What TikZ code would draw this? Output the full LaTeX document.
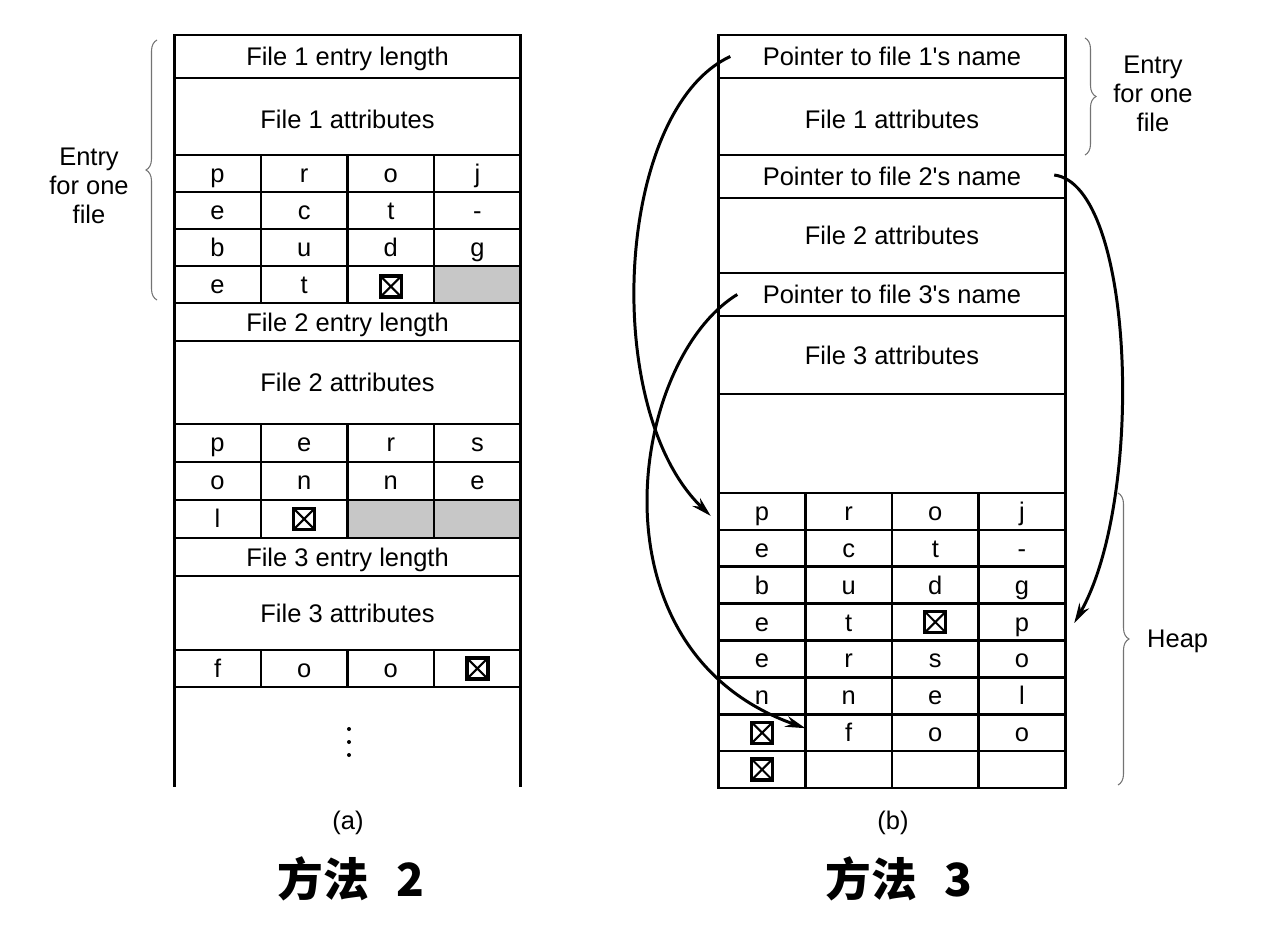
\documentclass[tikz,border=0pt]{standalone}
\usepackage{fontspec}
\setmainfont{Liberation Sans}[Ligatures=TeXOff]
\newfontfamily\cjk{Noto Sans CJK SC}
\usetikzlibrary{arrows.meta,decorations.pathreplacing}

\tikzset{
  cell/.style={draw,line width=1.5pt,inner sep=0pt,outer sep=0pt,
    minimum width=1.7325cm,minimum height=0.74cm,
    text height=10.2pt,text depth=0pt},
  bar/.style={cell,minimum width=6.93cm,text height=10.8pt},
  unused/.style={fill=black!22},
  nul/.style={draw,line width=1.8pt,minimum size=0.42cm,inner sep=0pt,
    path picture={\draw[line width=1.2pt]
      (path picture bounding box.north west) -- (path picture bounding box.south east)
      (path picture bounding box.north east) -- (path picture bounding box.south west);}},
  ptr/.style={-{Stealth[length=0.4cm,width=0.22cm]},line width=1.7pt},
  curly/.style={decorate,decoration={brace,amplitude=0.22cm},
    draw=black!55,line width=0.6pt},
  title/.style={font=\cjk\bfseries\fontsize{26}{28}\selectfont},
}

\begin{document}
\begin{tikzpicture}[x=0.02cm,y=-0.02cm,font=\fontsize{14.5}{16.7}\selectfont]
  \useasboundingbox (0,0) rectangle (1286,933);

  % (a) entries stored in line
  \node[bar,minimum height=0.86cm] (a-len1) at (347.5,56.5) {File 1 entry length};
  \node[bar,minimum height=1.54cm,text height=14pt] (a-att1) at (347.5,116.5) {File 1 attributes};
  \foreach \y/\cells [count=\r] in {173.5/{p,r,o,j},210.5/{e,c,t,-},247.5/{b,u,d,g},284.5/{e,t,{}}}
    \foreach \c [count=\k] in \cells
      \node[cell] (a-\r-\k) at ({174.25+86.625*(\k-0.5)},\y) {\c};
  \node[cell,unused] (a-4-4) at ({174.25+86.625*3.5},284.5) {};
  \node[bar,minimum height=0.76cm] (a-len2) at (347.5,322) {File 2 entry length};
  \node[bar,minimum height=1.66cm] (a-att2) at (347.5,382.5) {File 2 attributes};
  \foreach \y/\cells [count=\r from 5] in {443/{p,e,r,s},481/{o,n,n,e},519/{l,{}}}
    \foreach \c [count=\k] in \cells
      \node[cell,minimum height=0.76cm] (a-\r-\k) at ({174.25+86.625*(\k-0.5)},\y) {\c};
  \node[cell,unused,minimum height=0.76cm] (a-7-3) at ({174.25+86.625*2.5},519) {};
  \node[cell,unused,minimum height=0.76cm] (a-7-4) at ({174.25+86.625*3.5},519) {};
  \node[bar,minimum height=0.76cm] (a-len3) at (347.5,557) {File 3 entry length};
  \node[bar,minimum height=1.48cm] (a-att3) at (347.5,613) {File 3 attributes};
  \foreach \c [count=\k] in {f,o,o,{}}
    \node[cell] (a-8-\k) at ({174.25+86.625*(\k-0.5)},668.5) {\c};
  \draw[line width=1.5pt] (a-8-1.south west) -- ++(0,100)
    (a-8-4.south east) -- ++(0,100);
  \foreach \y in {729,742,755}
    \fill (349,\y) circle[radius=0.04cm];

  \node[nul] (a-x1) at ([yshift=-0.04cm]a-4-3) {};
  \node[nul] (a-x2) at (a-7-2) {};
  \node[nul] (a-x3) at (a-8-4) {};

  \draw[curly] (157,300) -- (157,40);
  \node[align=center] (a-note) at (89,186) {Entry\\for one\\file};

  % (b) names kept in a heap
  \node[bar,minimum height=0.86cm] (b-ptr1) at (892,56.5) {Pointer to file 1's name};
  \node[bar,minimum height=1.54cm,text height=14pt] (b-att1) at (892,116.5) {File 1 attributes};
  \node[bar,minimum height=0.86cm] (b-ptr2) at (892,176.5) {Pointer to file 2's name};
  \node[bar,minimum height=1.50cm] (b-att2) at (892,235.5) {File 2 attributes};
  \node[bar,minimum height=0.86cm] (b-ptr3) at (892,294.5) {Pointer to file 3's name};
  \node[bar,minimum height=1.56cm] (b-att3) at (892,355) {File 3 attributes};
  \node[bar,minimum height=1.98cm] (b-free) at (892,443.5) {};
  \foreach \cells [count=\r] in {{p,r,o,j},{e,c,t,-},{b,u,d,g},{e,t,{},p},
      {e,r,s,o},{n,n,e,l},{{},f,o,o},{{},{},{},{}}}
    \foreach \c [count=\k] in \cells
      \node[cell,minimum height=0.7375cm] (h-\r-\k)
        at ({718.75+86.625*(\k-0.5)},{493+36.875*(\r-0.5)}) {\c};

  \node[nul] (h-x1) at (h-4-3) {};
  \node[nul] (h-x2) at (h-7-1) {};
  \node[nul] (h-x3) at (h-8-1) {};

  \coordinate (t1) at ([xshift=0.23cm]b-ptr1.west);
  \coordinate (e1) at ([xshift=-0.16cm,yshift=-0.09cm]h-1-1.west);
  \coordinate (t2) at ([xshift=-0.22cm,yshift=0.03cm]b-ptr2.east);
  \coordinate (e2) at ([xshift=0.18cm,yshift=-0.02cm]h-4-4.east);
  \coordinate (t3) at ([xshift=0.37cm]b-ptr3.west);
  \coordinate (e3) at ([yshift=0.09cm]h-7-1.east);

  \draw[ptr] (t1) .. controls (615,110) and (600,410) .. (e1);
  \draw[ptr] (t2) .. controls (1135,185) and (1145,500) .. (e2);
  \draw[ptr] (t3) .. controls (630,360) and (585,650) .. (e3);

  \draw[curly] (1085,38) -- (1085,155);
  \node[align=center] (b-note) at (1153,94) {Entry\\for one\\file};
  \draw[curly] (1118,493) -- (1118,785);
  \node[anchor=west] (heap) at (1141,641) {Heap};

  % captions
  \node (cap-a) at (348,823) {(a)};
  \node (cap-b) at (893,823) {(b)};
  \node[title] (title-a) at (351,879) {方法\hspace{0.6em}2};
  \node[title] (title-b) at (899,879) {方法\hspace{0.6em}3};

\end{tikzpicture}
\end{document}
